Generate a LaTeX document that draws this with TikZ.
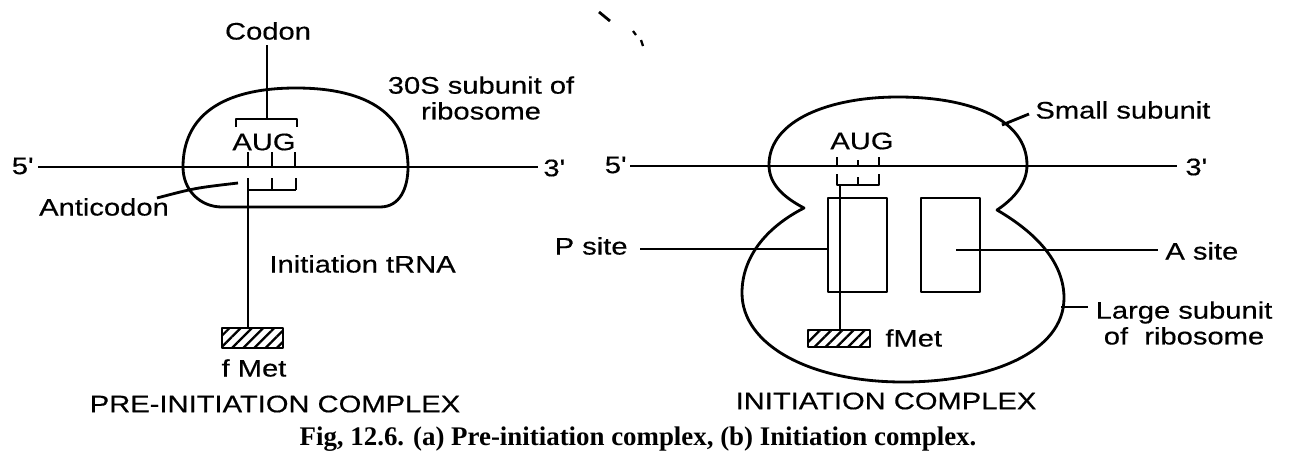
\documentclass[tikz,border=0pt]{standalone}
\usepackage{fontspec}
\setmainfont{Liberation Sans}
\newfontfamily\labfont[FakeStretch=1.22,FakeBold=0.4]{Liberation Sans}
\newfontfamily\capfont{Liberation Serif}
\usetikzlibrary{patterns.meta}
\begin{document}
\begin{tikzpicture}[x=0.02cm,y=-0.02cm,line width=1.6pt,line join=round,
  lbl/.style={font=\labfont\fontsize{13.6pt}{14.7pt}\selectfont,inner sep=0pt},
  capstyle/.style={font=\capfont\bfseries\fontsize{15.3pt}{18pt}\selectfont,inner sep=0pt},
  hatchbox/.style={draw,inner sep=0pt,pattern={Lines[angle=45,distance=4.5pt,line width=1.3pt]}},
  sitebox/.style={draw,inner sep=0pt,minimum width=1.18cm,minimum height=1.88cm}]
\path[use as bounding box,fill=white] (0,0) rectangle (1289,457);

% ---------------- (a) pre-initiation complex ----------------
\coordinate (m1L) at (38,167); \coordinate (m1R) at (538,167);
\draw (m1L) -- (m1R);
\node[lbl,anchor=east] (p5a) at (35,166) {5'};
\node[lbl,anchor=west] (p3a) at (542,168) {3'};
% 30S subunit
\draw (183,167) .. controls (183,116) and (222,88) .. (296,88)
  .. controls (370,88) and (408,116) .. (408,167)
  .. controls (408,188) and (400,207) .. (380,207) -- (222,207)
  .. controls (200,207) and (183,190) .. (183,167) -- cycle;
% codon
\node[lbl] (codon) at (268,31) {Codon};
\coordinate (ct) at (267,45); \coordinate (cb) at (267,119);
\draw (ct) -- (cb);
\draw (236,127) -- (236,119) -- (297,119) -- (297,127);
\node[lbl] (aug1) at (264,142) {AUG};
\foreach \x in {248,272,295} \draw (\x,152) -- (\x,167);
% anticodon
\draw (248,190) -- (296,190);
\draw (272,178) -- (272,190);
\draw (296,178) -- (296,190);
\coordinate (acb) at (248,178);
\node[hatchbox,minimum width=1.22cm,minimum height=0.4cm] (fm1) at (252.5,338) {};
\draw (acb) -- (acb |- fm1.north);
\node[lbl] (fmet1) at (254,368) {f Met};
\node[lbl] (antic) at (104,207) {Anticodon};
\coordinate (ant1) at (157,198); \coordinate (ant2) at (238,183);
\draw (ant1) .. controls (195,188) .. (ant2);
\node[lbl,anchor=west] (itrna) at (268,264) {Initiation tRNA};
\node[lbl,align=center] (s30) at (481,98) {30S subunit of\\ribosome};
\node[lbl] (t1) at (275,404) {PRE-INITIATION COMPLEX};

% ---------------- (b) initiation complex ----------------
\coordinate (m2L) at (630,166); \coordinate (m2R) at (1177,166);
\draw (m2L) -- (m2R);
\node[lbl,anchor=east] (p5b) at (628,165) {5'};
\node[lbl,anchor=west] (p3b) at (1184,167) {3'};
% ribosome outline (small + large subunit)
\draw (804,208) .. controls (785,198) and (769,185) .. (769,165)
  .. controls (769,120) and (830,97) .. (898,97)
  .. controls (972,97) and (1027,120) .. (1027,165)
  .. controls (1027,185) and (1012,200) .. (997,210)
  .. controls (1040,235) and (1064,265) .. (1064,298)
  .. controls (1064,352) and (990,382) .. (903,382)
  .. controls (810,382) and (742,345) .. (742,293)
  .. controls (742,258) and (765,228) .. (804,208) -- cycle;
\node[lbl] (aug2) at (862,141) {AUG};
\draw (837,157) -- (837,166);
\draw (858,160) -- (858,166);
\draw (879,157) -- (879,166);
\draw (837,174) -- (837,185) -- (879,185) -- (879,174);
\draw (858,177) -- (858,185);
\node[sitebox] (pbox) at (857.5,245) {};
\node[sitebox] (abox) at (950.5,245) {};
\node[hatchbox,minimum width=1.24cm,minimum height=0.34cm] (fm2) at (839,338.5) {};
\coordinate (st2) at (840,185);
\draw (st2) -- (st2 |- fm2.north);
\node[lbl,anchor=west] (fmet2) at (884,338) {fMet};
\node[lbl,anchor=east] (psite) at (629,246) {P site};
\coordinate (pl) at (640,249);
\draw (pl) -- (pl -| pbox.west);
\node[lbl,anchor=west] (asite) at (1164,251) {A site};
\coordinate (ai) at (956,250); \coordinate (al) at (1158,250);
\draw (ai) -- (al);
\node[lbl,anchor=west] (small) at (1034,110) {Small subunit};
\coordinate (sl1) at (1002,125); \coordinate (sl2) at (1029,114);
\draw (sl1) -- (sl2);
\node[lbl,align=center] (large) at (1184,323) {Large subunit\\of\ \ ribosome};
\coordinate (ll1) at (1061,307); \coordinate (ll2) at (1088,307);
\draw (ll1) -- (ll2);
\node[lbl] (t2) at (886,401) {INITIATION COMPLEX};

% scan marks
\draw[line width=1.6pt] (599,12) -- (610,21);
\draw[line width=1.3pt] (633,31) -- (636,35);
\draw[line width=1.3pt] (641,40) -- (643,46);

% caption
\node[capstyle] (caption) at (638,439) {Fig, 12.6. (a) Pre-initiation complex, (b) Initiation complex.};
\end{tikzpicture}
\end{document}
